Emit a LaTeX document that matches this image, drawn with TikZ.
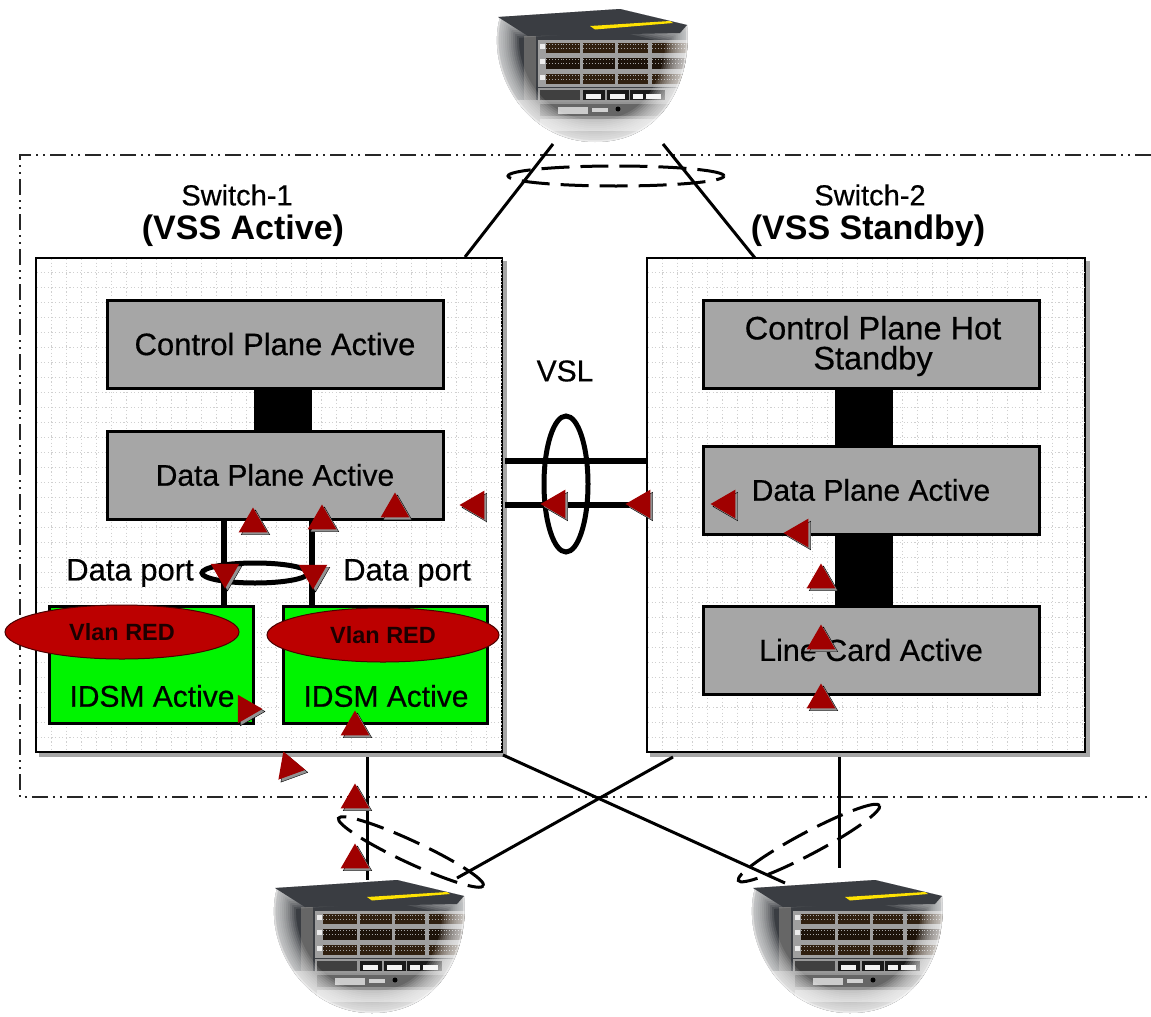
\documentclass[tikz,border=0pt]{standalone}
\usepackage{fontspec}
\setmainfont{Liberation Sans}
\newfontfamily\softfont[FakeBold=0.5]{Liberation Sans}
\usetikzlibrary{shapes.geometric,shadows}
\definecolor{boxgray}{HTML}{A6A6A6}
\definecolor{idsmgreen}{HTML}{00F400}
\definecolor{vlanred}{HTML}{BC0000}
\definecolor{trired}{HTML}{A00000}
\definecolor{chassisdark}{HTML}{3A3D42}
\definecolor{gridgray}{HTML}{D0D0D0}
\newcommand{\fsz}[1]{\fontsize{#1}{#1}\selectfont\softfont}
\tikzset{
  panelbox/.style={draw=black,fill=white,line width=1.5,anchor=center,
    copy shadow={shadow xshift=4pt,shadow yshift=-4pt,fill=gray!70,draw=gray!70}},
  planebox/.style={draw=black,fill=boxgray,line width=3,text=black,align=center},
  idsmbox/.style={draw=black,fill=idsmgreen,line width=3},
  vlanoval/.style={ellipse,draw=black!60!vlanred,fill=vlanred,line width=1,inner sep=0pt},
  linkbar/.style={fill=black,inner sep=0pt},
  tri/.style={regular polygon,regular polygon sides=3,fill=trired,inner sep=0pt,minimum size=33pt,
    copy shadow={shadow xshift=2.5pt,shadow yshift=-2.5pt,fill=gray!85}},
  thickline/.style={line width=5.5,black},
  thinline/.style={line width=3,black},
  dashloop/.style={line width=3,black,dash pattern=on 28pt off 11pt},
  frameline/.style={line width=1.4,black!85,dash pattern=on 16pt off 5pt on 2pt off 5pt on 2pt off 5pt},
  gridline/.style={gridgray,line width=.8,dash pattern=on 1.2pt off 2.4pt},
}
\newcommand{\portrow}[3]{% y top, height, colour
  \fill[gray!75] (58,#1-3) rectangle (212,#1+#2+3);
  \foreach \xa/\xb in {66/100,103/135,138/168,172/212}{
    \fill[#3] (\xa,#1) rectangle (\xb,#1+#2);
    \draw[gray!70,line width=.9,dotted] (\xa,#1+#2*.5) -- (\xb,#1+#2*.5);
    \draw[gray!70,line width=.9,dotted] (\xa,#1+#2*.15) -- (\xb,#1+#2*.15);
  }
  \fill[gray!15] (60,#1+1) rectangle (65,#1+6);
}
\newcommand{\chassisicon}[2]{%
  \begin{scope}[shift={(#1,#2)}]
    \def\bowl{(20,17) -- (140,9) -- (207,25) .. controls (212,70) and (190,142) .. (115,142)
      .. controls (45,142) and (5,70) .. (20,17) -- cycle}
    \begin{scope}
      \clip \bowl;
      \fill[chassisdark] (0,0) rectangle (230,150);
      \fill[black!60] (44,36) rectangle (56,100);
      \fill[gray!85] (36,100) rectangle (230,150);
      \portrow{43}{10}{black!75!brown}
      \portrow{58}{11}{black!85!brown}
      \portrow{74}{10}{black!75!brown}
      \fill[gray!80] (58,88) rectangle (230,102);
      \fill[black!75] (60,90) rectangle (100,100);
      \foreach \xa in {103,127,150,163}{
        \fill[black!90] (\xa,90) rectangle (\xa+22,100);
        \fill[gray!10] (\xa+3,94) rectangle (\xa+18,99);
      }
      \fill[black!60] (60,104) rectangle (230,116);
      \fill[gray!40] (78,107) rectangle (108,114);
      \fill[gray!35] (112,108) rectangle (128,112);
      \fill[black] (138,109) circle (2.5);
      \fill[gray!50] (60,119) rectangle (190,131);
      \foreach \w in {4,8,...,44}{
        \draw[white,line width=\w,opacity=.11] \bowl;
      }
      \draw[white,line width=3,opacity=.4] \bowl;
    \end{scope}
    \fill[chassisdark] (18,17) -- (140,9) -- (207,25) -- (200,33) -- (48,36) -- cycle;
    \fill[yellow!85!orange] (110,26) -- (190,21) -- (193,23) -- (115,29.5) -- cycle;
  \end{scope}
}
\begin{document}
\begin{tikzpicture}[x=1pt,y=-1pt]
\useasboundingbox (0,0) rectangle (1151,1017);
\fill[white] (0,0) rectangle (1151,1017);

% chassis pictures
\chassisicon{480}{0}
\chassisicon{257}{871}
\chassisicon{735}{871}
\coordinate (topL) at (553,144);
\coordinate (topR) at (663,144);
\coordinate (botLA) at (367,880);
\coordinate (botLB) at (457,878);
\coordinate (botRA) at (785,883);
\coordinate (botRB) at (839,868);

% outer frame
\coordinate (fr1) at (1151,155);
\coordinate (fr2) at (20,155);
\coordinate (fr3) at (20,797);
\coordinate (fr4) at (1151,797);
\draw[frameline] (fr1) -- (fr2) -- (fr3) -- (fr4);

% switch panels
\node[panelbox,minimum width=466,minimum height=494] (p1) at (269,505) {};
\node[panelbox,minimum width=438,minimum height=494] (p2) at (866,505) {};
\foreach \x in {51,66,...,501}{\draw[gridline] (\x,259) -- (\x,751);}
\foreach \x in {662,677,...,1084}{\draw[gridline] (\x,259) -- (\x,751);}
\foreach \y in {272,287,...,751}{
  \draw[gridline] (37,\y) -- (501,\y);
  \draw[gridline] (648,\y) -- (1084,\y);
}

% titles
\node (s1a) at (237,195) {\fsz{29}Switch-1};
\node (s1b) at (243,231) {\fontsize{34}{34}\selectfont\bfseries (VSS Active)};
\node (s2a) at (870,195) {\fsz{29}Switch-2};
\node (s2b) at (868,231) {\fontsize{34}{34}\selectfont\bfseries (VSS Standby)};

% black bars between planes
\node[linkbar,minimum width=58,minimum height=46] (bar1) at (283,410) {};
\node[linkbar,minimum width=58,minimum height=60] (bar2) at (864,417) {};
\node[linkbar,minimum width=58,minimum height=74] (bar3) at (864,570) {};

% planes
\node[planebox,minimum width=336,minimum height=88] (cp1) at (275,344) {\fsz{31}Control Plane Active};
\node[planebox,minimum width=336,minimum height=88] (dp1) at (275,475) {\fsz{30}Data Plane Active};
\node[planebox,minimum width=336,minimum height=88] (cp2) at (871,344) {};
\node[align=center,font=\fontsize{32.5}{30}\selectfont\softfont] (cp2t) at (873,346) {Control Plane Hot\\Standby};
\node[planebox,minimum width=336,minimum height=88] (dp2) at (871,490) {\fsz{30}Data Plane Active};
\node[planebox,minimum width=336,minimum height=88] (lc) at (871,650) {\fsz{30.5}Line Card Active};

% IDSM modules
\node[idsmbox,minimum width=204,minimum height=117] (id1) at (151,664.5) {};
\node[idsmbox,minimum width=204,minimum height=117] (id2) at (385,664.5) {};
\node (id1t) at (152,696) {\fsz{30}IDSM Active};
\node (id2t) at (386,696) {\fsz{30}IDSM Active};

% data port links
\coordinate (dpL) at (224,519);
\coordinate (dpR) at (312,519);
\coordinate (idL) at (224,606);
\coordinate (idR) at (312,606);
\draw[thickline] (dpL) -- (idL);
\draw[thickline] (dpR) -- (idR);
\node[ellipse,draw=black,line width=5,minimum width=106,minimum height=20,inner sep=0pt] (dploop) at (255,573) {};
\node (dpt1) at (130,573) {\fsz{31}Data port};
\node (dpt2) at (407,573) {\fsz{31}Data port};

% Vlan ovals
\node[vlanoval,minimum width=234,minimum height=54] (v1) at (122,632) {\fontsize{23.5}{23.5}\selectfont\bfseries\color{black!85!vlanred}Vlan RED};
\node[vlanoval,minimum width=232,minimum height=54] (v2) at (383,635) {\fontsize{23.5}{23.5}\selectfont\bfseries\color{black!85!vlanred}Vlan RED};

% VSL
\coordinate (vslA1) at (505,461);
\coordinate (vslA2) at (647,461);
\coordinate (vslB1) at (505,505);
\coordinate (vslB2) at (647,505);
\draw[thickline] (vslA1) -- (vslA2);
\draw[thickline] (vslB1) -- (vslB2);
\node[ellipse,draw=black,line width=5,minimum width=44,minimum height=136,inner sep=0pt] (vslloop) at (566,484) {};
\node (vsl) at (565,371) {\fsz{30}VSL};

% uplinks
\coordinate (p1top) at (465,257);
\coordinate (p2top) at (755,258);
\draw[thinline] (topL) -- (p1top);
\draw[thinline] (topR) -- (p2top);
\node[ellipse,dashloop,draw,minimum width=216,minimum height=20,inner sep=0pt] (toploop) at (616,176) {};

% downlinks
\coordinate (p1b) at (367,757);
\coordinate (p1c) at (503,755);
\coordinate (p2b) at (673,757);
\coordinate (p2c) at (839,757);
\draw[thinline] (p1b) -- (botLA);
\draw[thinline] (p2c) -- (botRB);
\draw[thinline] (p1c) -- (botRA);
\draw[thinline] (p2b) -- (botLB);
\node[ellipse,dashloop,draw,rotate=-25,minimum width=160,minimum height=22,inner sep=0pt] (lloop) at (411,852) {};
\node[ellipse,dashloop,draw,rotate=28,minimum width=160,minimum height=22,inner sep=0pt] (rloop) at (809,843) {};

% traffic flow triangles
\node[tri,shape border rotate=0] (u1) at (253,524) {};
\node[tri,shape border rotate=0] (u2) at (322,521) {};
\node[tri,shape border rotate=0] (u3) at (395,509) {};
\node[tri,shape border rotate=0] (u4) at (355,727) {};
\node[tri,shape border rotate=0] (u5) at (355,800) {};
\node[tri,shape border rotate=0] (u6) at (355,860) {};
\node[tri,shape border rotate=0] (u7) at (821,580) {};
\node[tri,shape border rotate=0] (u8) at (821,641) {};
\node[tri,shape border rotate=0] (u9) at (821,700) {};
\node[tri,shape border rotate=90] (l1) at (476,505) {};
\node[tri,shape border rotate=90] (l2) at (557,504) {};
\node[tri,shape border rotate=90] (l3) at (642,504) {};
\node[tri,shape border rotate=90] (l4) at (727,504) {};
\node[tri,shape border rotate=90] (l5) at (800,533) {};
\node[tri,shape border rotate=180] (d1) at (225,572) {};
\node[tri,shape border rotate=180] (d2) at (313,573) {};
\node[tri,shape border rotate=270] (r1) at (246,709) {};
\node[tri,shape border rotate=260] (r2) at (289,767) {};
\end{tikzpicture}
\end{document}
